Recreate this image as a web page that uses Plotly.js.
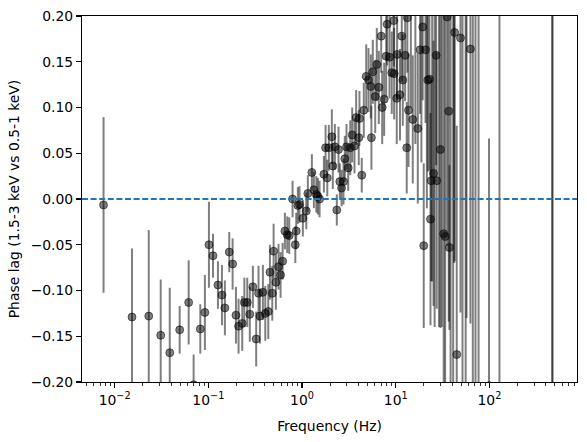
<!DOCTYPE html>
<html><head><meta charset="utf-8">
<script src="https://cdn.plot.ly/plotly-3.0.1.min.js"></script>
<style>html,body{margin:0;padding:0;background:#fff}</style>
</head><body>
<div id="chart" style="width:587px;height:442px"></div>
<script>
// Frequency (Hz), phase lag and 1-sigma error
const freq = [0.0076,0.0153,0.0231,0.031,0.0387,0.0494,0.0616,0.0696,0.082,0.0918,
  0.1014,0.112,0.1265,0.1396,0.150,0.167,0.1815,0.197,0.210,0.230,
  0.242,0.260,0.277,0.2985,0.324,0.343,0.355,0.382,0.405,0.436,
  0.454,0.481,0.497,0.526,0.561,0.590,0.620,0.656,0.695,0.730,
  0.792,0.847,0.867,0.902,0.940,1.02,1.11,1.153,1.273,1.337,
  1.42,1.476,1.538,1.71,1.783,1.859,1.932,2.08,2.13,2.24,
  2.35,2.45,2.53,2.64,2.77,2.86,2.98,3.11,3.27,3.43,
  3.63,3.78,4.03,4.10,4.34,4.56,4.84,5.12,5.42,5.50,
  5.69,6.04,6.28,6.60,7.00,7.17,7.53,7.91,8.10,8.58,
  9.07,9.53,9.62,10.25,10.35,11.1,11.6,11.9,12.6,13.1,
  13.3,13.7,14.5,15.2,16.2,17.2,18.2,18.8,19.4,19.9,
  20.8,21.5,22.0,22.9,23.5,23.9,24.5,25.3,26.0,27.0,
  27.4,29.0,30.0,31.0,32.5,33.7,35.4,36.8,37.4,38.5,
  41.0,42.0,42.6,44.8,49.1,51.6,55.8,57.0,62.7,66.5,
  71.0,76.6,99.0,128.0,470.0,470.0];
const lag = [-0.0065,-0.129,-0.128,-0.149,-0.168,-0.143,-0.113,-0.203,-0.142,-0.124,
  -0.050,-0.062,-0.094,-0.105,-0.119,-0.058,-0.071,-0.127,-0.139,-0.136,
  -0.113,-0.113,-0.126,-0.096,-0.153,-0.103,-0.128,-0.102,-0.125,-0.123,
  -0.080,-0.103,-0.057,-0.091,-0.074,-0.083,-0.068,-0.035,-0.039,-0.040,
  0.000,-0.050,-0.035,-0.007,-0.006,-0.021,-0.013,0.006,0.029,0.010,
  0.005,0.003,0.000,0.027,0.056,0.023,0.056,0.068,0.036,0.057,
  -0.012,0.054,0.019,0.012,0.019,0.044,0.057,0.034,0.056,0.070,
  0.058,0.089,0.067,0.088,0.026,0.097,0.134,0.130,0.123,0.067,
  0.139,0.112,0.147,0.122,0.178,0.100,0.109,0.156,0.191,0.155,
  0.138,0.195,0.137,0.110,0.158,0.114,0.178,0.130,0.157,0.056,
  0.198,0.097,0.230,0.087,0.220,0.077,0.163,0.240,0.188,-0.051,
  0.163,0.250,0.130,0.131,-0.022,0.020,0.220,0.028,0.210,0.157,
  0.020,0.250,0.054,0.230,-0.038,-0.041,0.199,0.096,-0.053,0.300,
  -0.250,0.220,0.182,-0.170,0.176,0.250,-0.300,0.220,0.164,0.350,
  -0.280,0.300,-0.204,0.450,-0.600,0.500];
const lagErr = [0.096,0.075,0.094,0.061,0.071,0.026,0.046,0.033,0.027,0.041,
  0.047,0.024,0.026,0.033,0.030,0.022,0.028,0.031,0.030,0.030,
  0.027,0.027,0.030,0.023,0.030,0.030,0.030,0.030,0.030,0.030,
  0.030,0.030,0.030,0.030,0.025,0.025,0.020,0.020,0.020,0.020,
  0.020,0.020,0.020,0.020,0.020,0.020,0.020,0.020,0.020,0.020,
  0.020,0.020,0.020,0.020,0.025,0.020,0.025,0.030,0.025,0.025,
  0.017,0.025,0.020,0.020,0.025,0.025,0.025,0.025,0.030,0.030,
  0.030,0.030,0.030,0.030,0.019,0.030,0.035,0.035,0.035,0.035,
  0.035,0.040,0.040,0.040,0.040,0.040,0.040,0.045,0.045,0.045,
  0.045,0.050,0.050,0.050,0.050,0.050,0.050,0.050,0.050,0.050,
  0.060,0.062,0.130,0.070,0.160,0.082,0.070,0.200,0.080,0.090,
  0.080,0.260,0.100,0.100,0.116,0.110,0.310,0.145,0.350,0.120,
  0.140,0.390,0.195,0.370,0.250,0.250,0.250,0.230,0.090,0.600,
  0.500,0.290,0.250,0.250,0.300,0.500,0.550,0.350,0.300,0.600,
  0.500,0.550,0.270,0.900,1.000,0.900];

const xTickVals = [0.01, 0.1, 1, 10, 100];
const xTickText = ['10<sup>\u22122</sup>','10<sup>\u22121</sup>','10<sup>0</sup>','10<sup>1</sup>','10<sup>2</sup>'];

// minor tick positions (2..9 x each decade)
const xMinor = [];
for (let e = -3; e <= 2; e++) for (let m = 2; m <= 9; m++) xMinor.push(m * Math.pow(10, e));

const FONT = 'DejaVu Sans, Liberation Sans, sans-serif';
const trace = {
  x: freq, y: lag, type: 'scatter', mode: 'markers',
  marker: {size: 8, color: 'rgba(0,0,0,0.5)', line: {color: 'rgba(0,0,0,0.5)', width: 1}},
  error_y: {type: 'data', array: lagErr, visible: true, color: 'rgba(0,0,0,0.5)', thickness: 2, width: 0},
  cliponaxis: true, hoverinfo: 'x+y'
};
const layout = {
  width: 587, height: 442,
  margin: {l: 82, r: 10, t: 16, b: 60},
  paper_bgcolor: '#fff', plot_bgcolor: '#fff',
  font: {family: FONT, size: 13.9, color: '#000'},
  showlegend: false,
  xaxis: {
    type: 'log', range: [-2.349, 2.935],
    tickmode: 'array', tickvals: xTickVals, ticktext: xTickText,
    ticks: 'outside', ticklen: 4.9, tickwidth: 1.1, tickcolor: '#000',
    showline: true, linecolor: '#000', linewidth: 1.1, mirror: true,
    showgrid: false, zeroline: false,
    tickfont: {family: FONT, size: 13.9, color: '#000'},
    minor: {tickmode: 'array', tickvals: xMinor, ticks: 'outside', ticklen: 2.8, tickwidth: 0.8, tickcolor: '#000', showgrid: false},
    title: {text: 'Frequency (Hz)', font: {family: FONT, size: 13.9, color: '#000'}, standoff: 14},
    automargin: false
  },
  yaxis: {
    range: [-0.2, 0.2], tickmode: 'linear', tick0: -0.2, dtick: 0.05, tickformat: '.2f',
    ticks: 'outside', ticklen: 4.9, tickwidth: 1.1, tickcolor: '#000',
    showline: true, linecolor: '#000', linewidth: 1.1, mirror: true,
    showgrid: false, zeroline: false,
    tickfont: {family: FONT, size: 13.9, color: '#000'},
    title: {text: 'Phase lag (1.5-3 keV vs 0.5-1 keV)', font: {family: FONT, size: 13.9, color: '#000'}, standoff: 7},
    automargin: false
  },
  shapes: [{type: 'line', xref: 'paper', x0: 0, x1: 1, yref: 'y', y0: 0, y1: 0,
    line: {color: '#1f77b4', width: 2, dash: '6px,2.6px'}, layer: 'above'}]
};
Plotly.newPlot('chart', [trace], layout, {displayModeBar: false, staticPlot: true});
</script>
</body></html>
